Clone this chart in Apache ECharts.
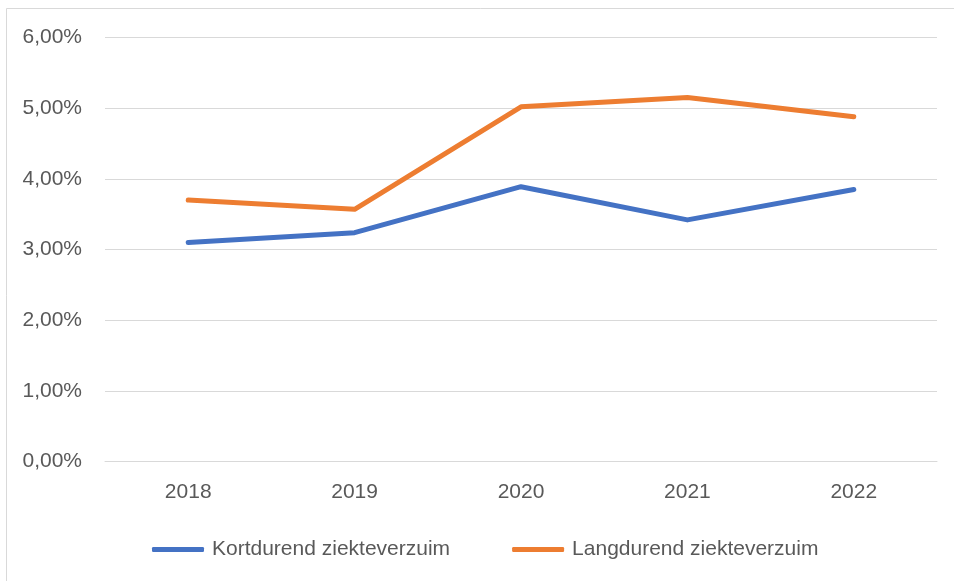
<!DOCTYPE html>
<html>
<head>
<meta charset="utf-8">
<script src="https://cdn.jsdelivr.net/npm/echarts@6/dist/echarts.min.js"></script>
<style>
html,body{margin:0;padding:0;background:#fff;}
#c{width:954px;height:581px;}
</style>
</head>
<body>
<div id="c"></div>
<script>
var categories = ['2018', '2019', '2020', '2021', '2022'];
var kortdurend = [3.10, 3.24, 3.89, 3.42, 3.85];
var langdurend = [3.70, 3.57, 5.02, 5.15, 4.88];
var seriesNames = ['Kortdurend ziekteverzuim', 'Langdurend ziekteverzuim'];

var FONT = '"Liberation Sans", Arial, sans-serif';
var chart = echarts.init(document.getElementById('c'), null, {renderer: 'canvas'});
chart.setOption({
  animation: false,
  backgroundColor: '#ffffff',
  graphic: [{
    type: 'rect',
    shape: {x: 6.5, y: 8.5, width: 1200, height: 1200},
    style: {fill: 'none', stroke: '#d9d9d9', lineWidth: 1},
    silent: true
  }],
  grid: {left: 105, right: 17, top: 37.5, bottom: 119.3, containLabel: false},
  xAxis: {
    type: 'category',
    data: categories,
    boundaryGap: true,
    axisLine: {show: true, lineStyle: {color: '#d9d9d9', width: 1}},
    axisTick: {show: false},
    axisLabel: {color: '#595959', fontSize: 21, fontFamily: FONT, margin: 20}
  },
  yAxis: {
    type: 'value',
    min: 0, max: 6, interval: 1,
    axisLine: {show: false},
    axisTick: {show: false},
    splitLine: {lineStyle: {color: '#d9d9d9', width: 1}},
    axisLabel: {
      color: '#595959', fontSize: 21, fontFamily: FONT, margin: 23,
      formatter: function (v) { return v.toFixed(2).replace('.', ',') + '%'; }
    }
  },
  legend: {
    left: 147, top: 534,
    icon: 'roundRect',
    itemWidth: 52, itemHeight: 5,
    itemGap: 62,
    textStyle: {color: '#595959', fontSize: 21, fontFamily: FONT, padding: [0, 0, 0, 3]},
    data: seriesNames
  },
  series: [
    {
      name: seriesNames[0], type: 'line', data: kortdurend,
      showSymbol: false, symbol: 'none',
      lineStyle: {color: '#4472C4', width: 5, cap: 'round', join: 'round'},
      itemStyle: {color: '#4472C4'}
    },
    {
      name: seriesNames[1], type: 'line', data: langdurend,
      showSymbol: false, symbol: 'none',
      lineStyle: {color: '#ED7D31', width: 5, cap: 'round', join: 'round'},
      itemStyle: {color: '#ED7D31'}
    }
  ]
});
</script>
</body>
</html>
